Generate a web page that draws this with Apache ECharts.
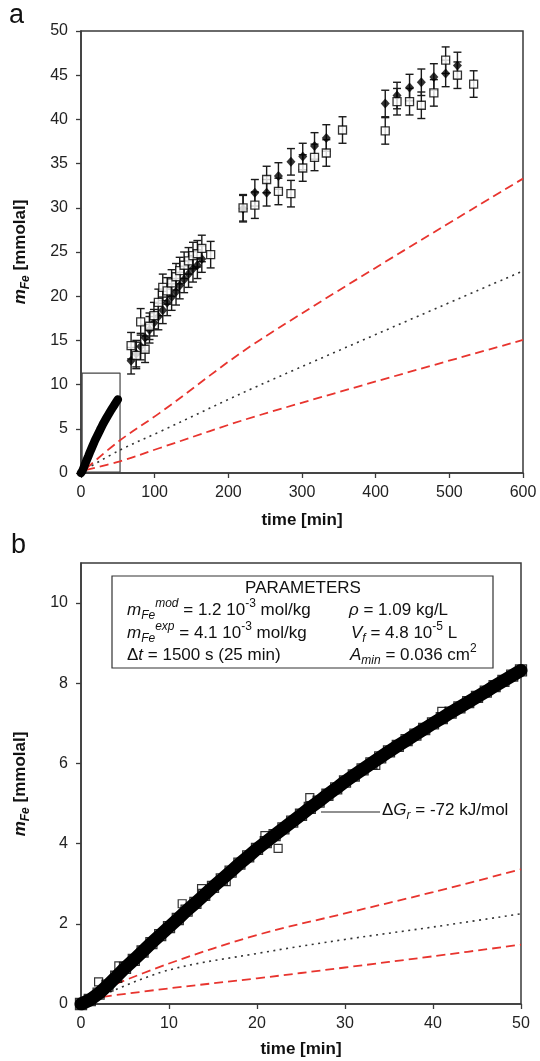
<!DOCTYPE html>
<html>
<head>
<meta charset="utf-8">
<script src="https://cdn.jsdelivr.net/npm/echarts@6/dist/echarts.min.js"></script>
<style>
html,body{margin:0;padding:0;background:#fff;}
#c{width:540px;height:1061px;}
</style>
</head>
<body>
<div id="c"></div>
<script>
// ---------- DATA ----------
// Panel a: discrete samples (time [min], m_Fe [mmolal])
const diamondTime = [68,75,81,87,93,99,105,111,117,123,129,134,140,146,152,158,164, 220,236,252,268,285,301,317,333, 413,429,446,462,479,495,511];
const diamondVal  = [12.7,13.5,14.3,15.3,16.2,17.0,17.7,18.4,19.3,19.9,20.5,21.2,21.9,22.5,23.1,23.5,24.2, 29.9,31.7,31.7,33.6,35.2,35.8,37.0,37.9, 41.8,42.7,43.6,44.2,44.8,45.2,46.1];
const squareTime  = [68,75,81,87,93,99,105,111,117,123,129,134,140,146,152,158,164,176, 220,236,252,268,285,301,317,333,355, 413,429,446,462,479,495,511,533];
const squareVal   = [14.4,13.3,17.1,14.0,16.6,17.8,19.3,21.0,20.6,21.5,22.2,22.9,23.5,24.0,24.6,24.8,25.4,24.7, 30.0,30.3,33.2,31.85,31.6,34.5,35.7,36.2,38.8, 38.7,42.0,42.0,41.6,43.0,46.7,45.0,44.0];
const errorHalf = 1.5;

// Continuous record (0-50 min), shown in panel b and compressed in panel a
const bandTime = [0,1,2,3,4,5,6,7,8,9,10,11,12,13,14,15,16,17,18,19,20,21,22,23,24,25,26,27,28,29,30,31,32,33,34,35,36,37,38,39,40,41,42,43,44,45,46,47,48,49,50];
const bandVal  = [0,0.1,0.26,0.46,0.68,0.9,1.1,1.31,1.52,1.72,1.92,2.12,2.33,2.52,2.72,2.92,3.11,3.3,3.5,3.68,3.87,4.04,4.21,4.38,4.55,4.72,4.89,5.05,5.22,5.38,5.55,5.7,5.85,6.0,6.15,6.3,6.44,6.58,6.72,6.86,7.0,7.13,7.27,7.4,7.53,7.66,7.79,7.93,8.06,8.19,8.32];
const outlierTime = [2.0,4.3,11.5,13.7,16.5,20.9,22.4,26.0,33.5,41.0];
const outlierVal  = [0.55,0.95,2.5,2.88,3.05,4.2,3.88,5.15,5.95,7.3];

// Inset box in panel a (time range, value range)
const insetTime = [1.5,53];
const insetVal  = [0.1,11.3];

// Model curves, panel a
const modelTimeA   = [7,53,107,243,600];
const modelUpperA  = [0.5,3.7,6.8,15.05,33.3];
const modelMidA    = [0.45,2.6,4.67,9.95,22.85];
const modelLowerA  = [0.35,1.32,2.83,6.56,15.05];
// Model curves, panel b
const modelUpperTimeB = [2.5,10,20,30,40,50];
const modelUpperB     = [0.37,1.01,1.72,2.26,2.79,3.36];
const modelMidTimeB   = [3.3,10,20,30,40,50];
const modelMidB       = [0.3,0.85,1.26,1.61,1.92,2.25];
const modelLowerTimeB = [2.5,10,20,30,40,50];
const modelLowerB     = [0.18,0.39,0.64,0.91,1.19,1.48];

// Axis ticks
const xTicksA = {min:0, max:600, interval:100};
const yTicksA = {min:0, max:50, interval:5};
const xTicksB = {min:0, max:50, interval:10};
const yTicksB = {min:0, max:11, interval:2};
const yLabelsB = [0,2,4,6,8,10];

// ---------- CHART ----------
const F = 'Liberation Sans, Arial, Helvetica, sans-serif';
const zip = (a,b) => a.map((v,i)=>[v,b[i]]);
const RED = '#e8342e';
const INK = '#1a1a1a';

function axisCommon(){
  return {
    type:'value',
    axisLine:{show:true,onZero:false,lineStyle:{color:'#3a3a3a',width:1.5}},
    axisTick:{show:true,inside:false,length:5,lineStyle:{color:'#3a3a3a',width:1.3}},
    splitLine:{show:false},
    axisLabel:{fontSize:16,color:'#222',fontFamily:F}
  };
}
const xa = Object.assign(axisCommon(), {gridIndex:0}, xTicksA); xa.axisLabel.margin = 12;
const ya = Object.assign(axisCommon(), {gridIndex:0}, yTicksA); ya.axisLabel.margin = 13;
const xb = Object.assign(axisCommon(), {gridIndex:1}, xTicksB); xb.axisLabel.margin = 12;
const yb = Object.assign(axisCommon(), {gridIndex:1}, yTicksB); yb.axisLabel.margin = 13;
yb.axisLabel.formatter = v => yLabelsB.includes(v) ? String(v) : '';
yb.axisLabel.customValues = yLabelsB;
yb.axisTick.customValues = yLabelsB;

function errBars(times, vals, xi, yi){
  return {
    type:'custom', xAxisIndex:xi, yAxisIndex:yi, z:3,
    data: times.map((t,i)=>[t, vals[i], errorHalf]),
    encode:{x:0,y:1},
    renderItem:(params, api)=>{
      const x=api.value(0), y=api.value(1), e=api.value(2);
      const p1=api.coord([x,y+e]), p2=api.coord([x,y-e]);
      const w=4, st={stroke:INK,lineWidth:1.4};
      return {type:'group',children:[
        {type:'line',shape:{x1:p1[0],y1:p1[1],x2:p2[0],y2:p2[1]},style:st},
        {type:'line',shape:{x1:p1[0]-w,y1:p1[1],x2:p1[0]+w,y2:p1[1]},style:st},
        {type:'line',shape:{x1:p2[0]-w,y1:p2[1],x2:p2[0]+w,y2:p2[1]},style:st}
      ]};
    }
  };
}
function modelLine(t, v, xi, yi, kind){
  return {
    type:'line', xAxisIndex:xi, yAxisIndex:yi, data:zip(t,v), symbol:'none', z:2, smooth:0.35,
    lineStyle: kind==='dot'
      ? {color:'#333',width:1.6,type:[2,4.5]}
      : {color:RED,width:1.8,type:[9,5]}
  };
}

const insetPath = [[insetTime[0],insetVal[0]],[insetTime[1],insetVal[0]],[insetTime[1],insetVal[1]],[insetTime[0],insetVal[1]],[insetTime[0],insetVal[0]]];

const series = [
  // panel a
  {type:'line',xAxisIndex:0,yAxisIndex:0,data:insetPath,symbol:'none',lineStyle:{color:'#444',width:1.2},z:1},
  modelLine(modelTimeA, modelUpperA, 0,0,'dash'),
  modelLine(modelTimeA, modelMidA, 0,0,'dot'),
  modelLine(modelTimeA, modelLowerA, 0,0,'dash'),
  {type:'line',xAxisIndex:0,yAxisIndex:0,data:zip(bandTime,bandVal),symbol:'none',lineStyle:{color:'#000',width:8.5,cap:'round'},z:4},
  errBars(diamondTime, diamondVal, 0,0),
  errBars(squareTime, squareVal, 0,0),
  {type:'scatter',xAxisIndex:0,yAxisIndex:0,data:zip(diamondTime,diamondVal),symbol:'diamond',symbolSize:[9,10],itemStyle:{color:'#000'},z:5},
  {type:'scatter',xAxisIndex:0,yAxisIndex:0,data:zip(squareTime,squareVal),symbol:'rect',symbolSize:8,itemStyle:{color:'#fff',borderColor:'#000',borderWidth:1.3},z:5},
  // panel b
  modelLine(modelUpperTimeB, modelUpperB, 1,1,'dash'),
  modelLine(modelMidTimeB, modelMidB, 1,1,'dot'),
  modelLine(modelLowerTimeB, modelLowerB, 1,1,'dash'),
  {type:'line',xAxisIndex:1,yAxisIndex:1,data:zip(bandTime,bandVal),symbol:'none',lineStyle:{color:'#000',width:13,cap:'round',join:'round'},z:4},
  {type:'scatter',xAxisIndex:1,yAxisIndex:1,data:zip(bandTime,bandVal),symbol:'rect',symbolSize:11,itemStyle:{color:'transparent',borderColor:'#000',borderWidth:1.3},z:5},
  {type:'scatter',xAxisIndex:1,yAxisIndex:1,data:zip(outlierTime,outlierVal),symbol:'rect',symbolSize:8,itemStyle:{color:'#fff',borderColor:'#000',borderWidth:1.2},z:3}
];

const base = {fill:'#111', fontFamily:F, fontSize:17, lineHeight:24, verticalAlign:'middle'};
const rich = {
  n: Object.assign({}, base),
  i: Object.assign({}, base, {fontStyle:'italic'}),
  sub: {fill:'#111', fontFamily:F, fontSize:12, fontStyle:'italic', lineHeight:12, verticalAlign:'bottom'},
  sup: {fill:'#111', fontFamily:F, fontSize:12, lineHeight:12, verticalAlign:'top'},
  supi: {fill:'#111', fontFamily:F, fontSize:12, fontStyle:'italic', lineHeight:12, verticalAlign:'top'},
  b: Object.assign({}, base, {fontWeight:'bold'}),
  bi: Object.assign({}, base, {fontWeight:'bold', fontStyle:'italic'}),
  bsub: {fill:'#111', fontFamily:F, fontSize:12, fontStyle:'italic', fontWeight:'bold', lineHeight:12, verticalAlign:'bottom'}
};
function txt(x,y,text,align,extra){
  return Object.assign({type:'text', x:x, y:y, style:{text:text, rich:rich, align:align||'left', verticalAlign:'middle', fill:'#111', font:'17px '+F}}, extra||{});
}

const graphic = [
  {type:'text', left:9, top:2, style:{text:'a', font:'27px '+F, fill:'#111'}},
  {type:'text', left:11, top:532, style:{text:'b', font:'27px '+F, fill:'#111'}},
  // x-axis titles
  txt(302, 520, '{b|time [min]}', 'center'),
  txt(301, 1049, '{b|time [min]}', 'center'),
  // y-axis titles
  Object.assign(txt(0,0,'{bi|m}{bsub|Fe}{b| [mmolal]}','center'), {x:20, y:252, rotation:Math.PI/2}),
  Object.assign(txt(0,0,'{bi|m}{bsub|Fe}{b| [mmolal]}','center'), {x:20, y:784, rotation:Math.PI/2}),
  // parameters box
  {type:'rect', shape:{x:112, y:576, width:381, height:92}, style:{fill:'#fff', stroke:'#333', lineWidth:1.2}, z:10},
  Object.assign(txt(303, 588, '{n|PARAMETERS}', 'center'), {z:11}),
  Object.assign(txt(127, 610, '{i|m}{sub|Fe}{supi|mod}{n| = 1.2 10}{sup|-3}{n| mol/kg}'), {z:11}),
  Object.assign(txt(127, 633, '{i|m}{sub|Fe}{supi|exp}{n| = 4.1 10}{sup|-3}{n| mol/kg}'), {z:11}),
  Object.assign(txt(127, 655, '{n|Δ}{i|t}{n| = 1500 s (25 min)}'), {z:11}),
  Object.assign(txt(349, 610, '{i|ρ}{n| = 1.09 kg/L}'), {z:11}),
  Object.assign(txt(351, 633, '{i|V}{sub|f}{n| = 4.8 10}{sup|-5}{n| L}'), {z:11}),
  Object.assign(txt(350, 655, '{i|A}{sub|min}{n| = 0.036 cm}{sup|2}'), {z:11}),
  // ΔG annotation
  {type:'line', shape:{x1:321, y1:812, x2:380, y2:812}, style:{stroke:'#222', lineWidth:1.1}, z:11},
  Object.assign(txt(382, 810, '{n|Δ}{i|G}{sub|r}{n| = -72 kJ/mol}'), {z:11})
];

const option = {
  animation:false,
  backgroundColor:'#fff',
  grid:[
    {left:81, top:31, width:442, height:442, show:true, borderColor:'#3a3a3a', borderWidth:1.5, backgroundColor:'transparent'},
    {left:81, top:563, width:440, height:441, show:true, borderColor:'#3a3a3a', borderWidth:1.5, backgroundColor:'transparent'}
  ],
  xAxis:[xa, xb],
  yAxis:[ya, yb],
  series: series,
  graphic: graphic
};
const chart = echarts.init(document.getElementById('c'), null, {renderer:'canvas'});
chart.setOption(option);
</script>
</body>
</html>
